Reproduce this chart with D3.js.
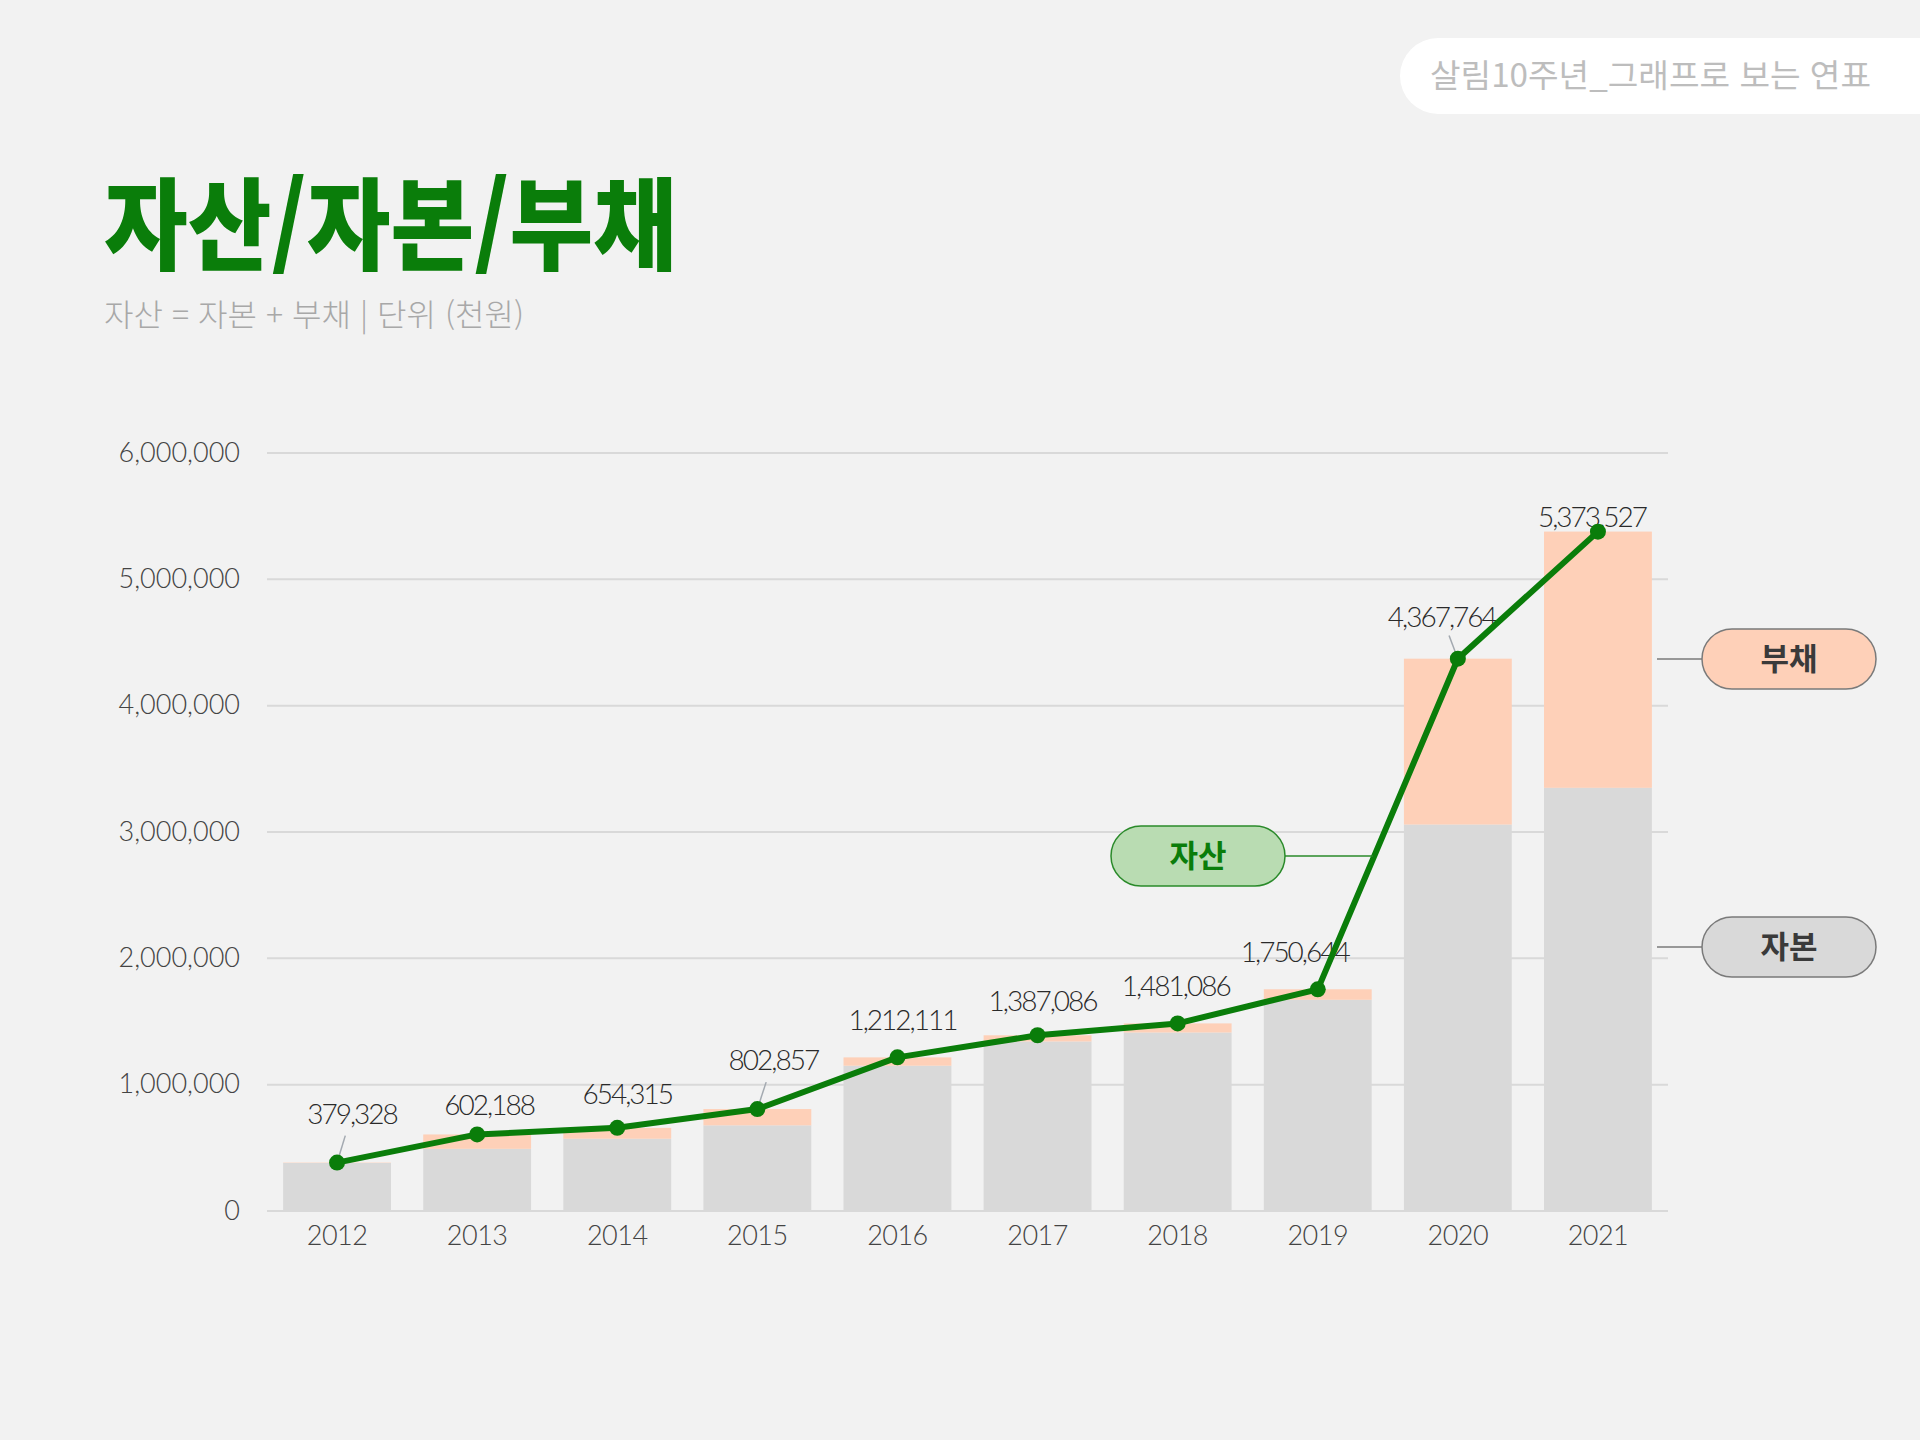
<!DOCTYPE html>
<html lang="ko">
<head>
<meta charset="utf-8">
<script src="https://cdn.jsdelivr.net/npm/d3@7"></script>
<style>
  html, body { margin: 0; padding: 0; background: #f2f2f2; }
  svg { display: block; }
</style>
</head>
<body>
<svg id="chart" width="1920" height="1440"></svg>
<script>
// ---- data (unit: thousand won) ----
const years   = ["2012","2013","2014","2015","2016","2017","2018","2019","2020","2021"];
const assets  = [379328, 602188, 654315, 802857, 1212111, 1387086, 1481086, 1750644, 4367764, 5373527];
const capital = [376000, 488000, 568000, 674000, 1146000, 1338000, 1409000, 1668000, 3055000, 3346000];
const debt    = [3000, 114000, 86000, 129000, 66000, 49000, 72000, 83000, 1313000, 2028000];
const yTicks  = [0, 1000000, 2000000, 3000000, 4000000, 5000000, 6000000];

const titleText    = "자산/자본/부채";
const subtitleText = "자산 = 자본 + 부채 | 단위 (천원)";
const badgeText    = "살림10주년_그래프로 보는 연표";
const seriesNames  = { asset: "자산", capital: "자본", debt: "부채" };

// ---- layout / style ----
const GREEN = "#0a7d0a";
const PEACH = "#fed0b8";
const GRAY  = "#d9d9d9";
const NUM_FONT = "Lato, 'Noto Sans', sans-serif";
const KR_FONT  = "'Noto Sans CJK KR', 'Noto Sans', sans-serif";

// label nudges (pixels) relative to each point
const labelDX = [15, 12, 10, 16, 5, 5, -2, -23, -16, -6];
const labelDY = [-49, -30, -34, -49, -37, -34, -37, -37, -42, -15];
const leaderIdx = [0, 3, 8];

const svg = d3.select("#chart");

const x = d3.scaleBand().domain(years).range([267, 1668])
  .paddingInner(0.23).paddingOuter(0.115);
const y = d3.scaleLinear().domain([0, 6000000]).range([1210.5, 452.5]);

// ---- badge ----
svg.append("rect").attr("x", 1400).attr("y", 38).attr("width", 600).attr("height", 76)
  .attr("rx", 38).attr("fill", "#ffffff");
svg.append("text").attr("x", 1430).attr("y", 87)
  .attr("font-family", KR_FONT).attr("font-weight", 400).attr("font-size", 32)
  .attr("fill", "#bdbdbd").attr("textLength", 441).attr("lengthAdjust", "spacingAndGlyphs")
  .text(badgeText);

// ---- title ----
svg.append("text").attr("x", 104).attr("y", 262)
  .attr("font-family", KR_FONT).attr("font-weight", 900).attr("font-size", 100)
  .attr("fill", GREEN).attr("textLength", 573).attr("lengthAdjust", "spacingAndGlyphs")
  .text(titleText);
svg.append("text").attr("x", 104).attr("y", 326)
  .attr("font-family", KR_FONT).attr("font-weight", 300).attr("font-size", 31)
  .attr("fill", "#a8a8a8").attr("textLength", 420).attr("lengthAdjust", "spacingAndGlyphs")
  .text(subtitleText);

// ---- y axis with gridlines ----
const yAxis = svg.append("g").attr("transform", "translate(267,0)")
  .call(d3.axisLeft(y).tickValues(yTicks).tickFormat(d3.format(","))
    .tickSize(-(1668 - 267)).tickPadding(27));
yAxis.select(".domain").remove();
yAxis.selectAll(".tick line").attr("stroke", GRAY).attr("stroke-width", 2);
yAxis.selectAll(".tick text").attr("font-family", NUM_FONT).attr("font-weight", 300)
  .attr("font-size", 27).attr("fill", "#444");

// ---- x axis ----
const xAxis = svg.append("g").attr("transform", "translate(0,1210.5)")
  .call(d3.axisBottom(x).tickSize(0).tickPadding(15));
xAxis.select(".domain").remove();
xAxis.selectAll(".tick text").attr("font-family", NUM_FONT).attr("font-weight", 300)
  .attr("font-size", 27).attr("letter-spacing", -0.5).attr("fill", "#444");

// ---- stacked bars ----
const table = years.map((yr, i) => ({ year: yr, capital: capital[i], debt: debt[i] }));
const stack = d3.stack().keys(["capital", "debt"])(table);
const colors = { capital: GRAY, debt: PEACH };
svg.append("g").selectAll("g").data(stack).join("g")
  .attr("fill", d => colors[d.key])
  .selectAll("rect").data(d => d).join("rect")
  .attr("x", d => x(d.data.year))
  .attr("width", x.bandwidth())
  .attr("y", d => y(d[1]))
  .attr("height", d => y(d[0]) - y(d[1]));

// ---- value labels ----
const pts = years.map((yr, i) => ({
  px: x(yr) + x.bandwidth() / 2, py: y(assets[i]), v: assets[i], i
}));
const labG = svg.append("g");
labG.selectAll("line").data(pts.filter(p => leaderIdx.includes(p.i))).join("line")
  .attr("x1", p => p.px + labelDX[p.i] * 0.1).attr("y1", p => p.py + labelDY[p.i] * 0.1)
  .attr("x2", p => p.px + labelDX[p.i] * 0.55).attr("y2", p => p.py + labelDY[p.i] * 0.55)
  .attr("stroke", "#a3a9b0").attr("stroke-width", 1.5);
labG.selectAll("text").data(pts).join("text")
  .attr("x", p => p.px + labelDX[p.i]).attr("y", p => p.py + labelDY[p.i])
  .attr("dy", "0.36em").attr("text-anchor", "middle")
  .attr("font-family", NUM_FONT).attr("font-weight", 300).attr("font-size", 28)
  .attr("letter-spacing", -2).attr("fill", "#2a2a2a")
  .text(p => d3.format(",")(p.v));

// ---- asset line + points ----
svg.append("path").datum(pts)
  .attr("d", d3.line().x(p => p.px).y(p => p.py))
  .attr("fill", "none").attr("stroke", GREEN).attr("stroke-width", 6)
  .attr("stroke-linejoin", "round");
svg.append("g").selectAll("circle").data(pts).join("circle")
  .attr("cx", p => p.px).attr("cy", p => p.py).attr("r", 8).attr("fill", GREEN);

// ---- legend pills ----
function pill(cx, cy, label, fill, stroke, textFill, lx1, lx2, lineColor) {
  const w = 174, h = 60;
  svg.append("line").attr("x1", lx1).attr("x2", lx2).attr("y1", cy).attr("y2", cy)
    .attr("stroke", lineColor).attr("stroke-width", 1.5);
  svg.append("rect").attr("x", cx - w / 2).attr("y", cy - h / 2).attr("width", w).attr("height", h)
    .attr("rx", h / 2).attr("fill", fill).attr("stroke", stroke).attr("stroke-width", 1.5);
  svg.append("text").attr("x", cx).attr("y", cy).attr("dy", "0.36em").attr("text-anchor", "middle")
    .attr("font-family", KR_FONT).attr("font-weight", 700).attr("font-size", 31)
    .attr("fill", textFill).text(label);
}
pill(1789, 659, seriesNames.debt, PEACH, "#7a7a7a", "#3a3a3a", 1657, 1702, "#7a7a7a");
pill(1789, 947, seriesNames.capital, GRAY, "#7a7a7a", "#3a3a3a", 1657, 1702, "#7a7a7a");
pill(1198, 856, seriesNames.asset, "#b9dcb2", "#2a8a2a", GREEN, 1285, 1373, "#2a8a2a");
</script>
</body>
</html>
